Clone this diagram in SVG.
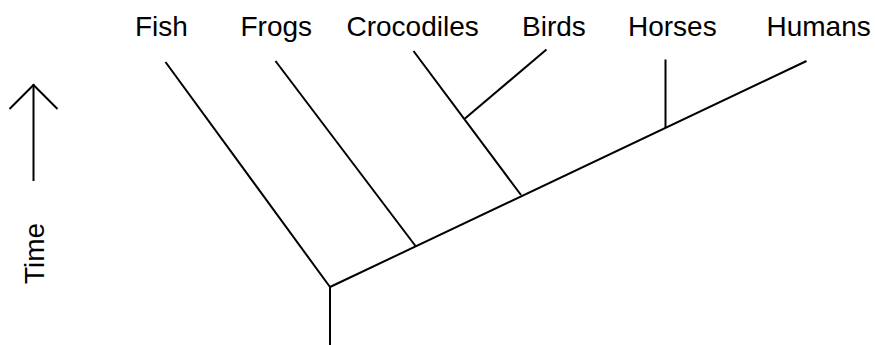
<svg xmlns="http://www.w3.org/2000/svg" width="875" height="345" viewBox="0 0 875 345">
  <style>
    .lbl { font-family: "Liberation Sans", Arial, sans-serif; font-size: 28px; fill: #000; }
    .ln { stroke: #000; stroke-width: 2; fill: none; stroke-linecap: butt; }
  </style>
  <rect width="875" height="345" fill="#fff"/>

  <!-- time axis -->
  <g id="time-axis">
    <line class="ln" x1="33.5" y1="181" x2="33.5" y2="84"/>
    <polyline class="ln" points="9.5,109 33.5,85 57.5,109"/>
    <text class="lbl" transform="translate(44,253.5) rotate(-90)" text-anchor="middle">Time</text>
  </g>

  <!-- taxa labels -->
  <g id="fish"><text class="lbl" x="135" y="36">Fish</text></g>
  <g id="frogs"><text class="lbl" x="240.5" y="36">Frogs</text></g>
  <g id="crocodiles"><text class="lbl" x="346.5" y="36">Crocodiles</text></g>
  <g id="birds"><text class="lbl" x="522" y="36">Birds</text></g>
  <g id="horses"><text class="lbl" x="628" y="36">Horses</text></g>
  <g id="humans"><text class="lbl" x="766.5" y="36">Humans</text></g>

  <!-- tree branches -->
  <g id="connectors">
    <line class="ln" x1="330" y1="345" x2="330" y2="287"/>
    <line class="ln" x1="330" y1="287" x2="806.5" y2="61"/>
    <line class="ln" x1="165.5" y1="62" x2="330" y2="287"/>
    <line class="ln" x1="275.5" y1="61" x2="415.5" y2="246"/>
    <line class="ln" x1="413.5" y1="51" x2="521" y2="195"/>
    <line class="ln" x1="546.5" y1="49.5" x2="465" y2="118.5"/>
    <line class="ln" x1="665.5" y1="59.5" x2="665.5" y2="128"/>
  </g>
</svg>
